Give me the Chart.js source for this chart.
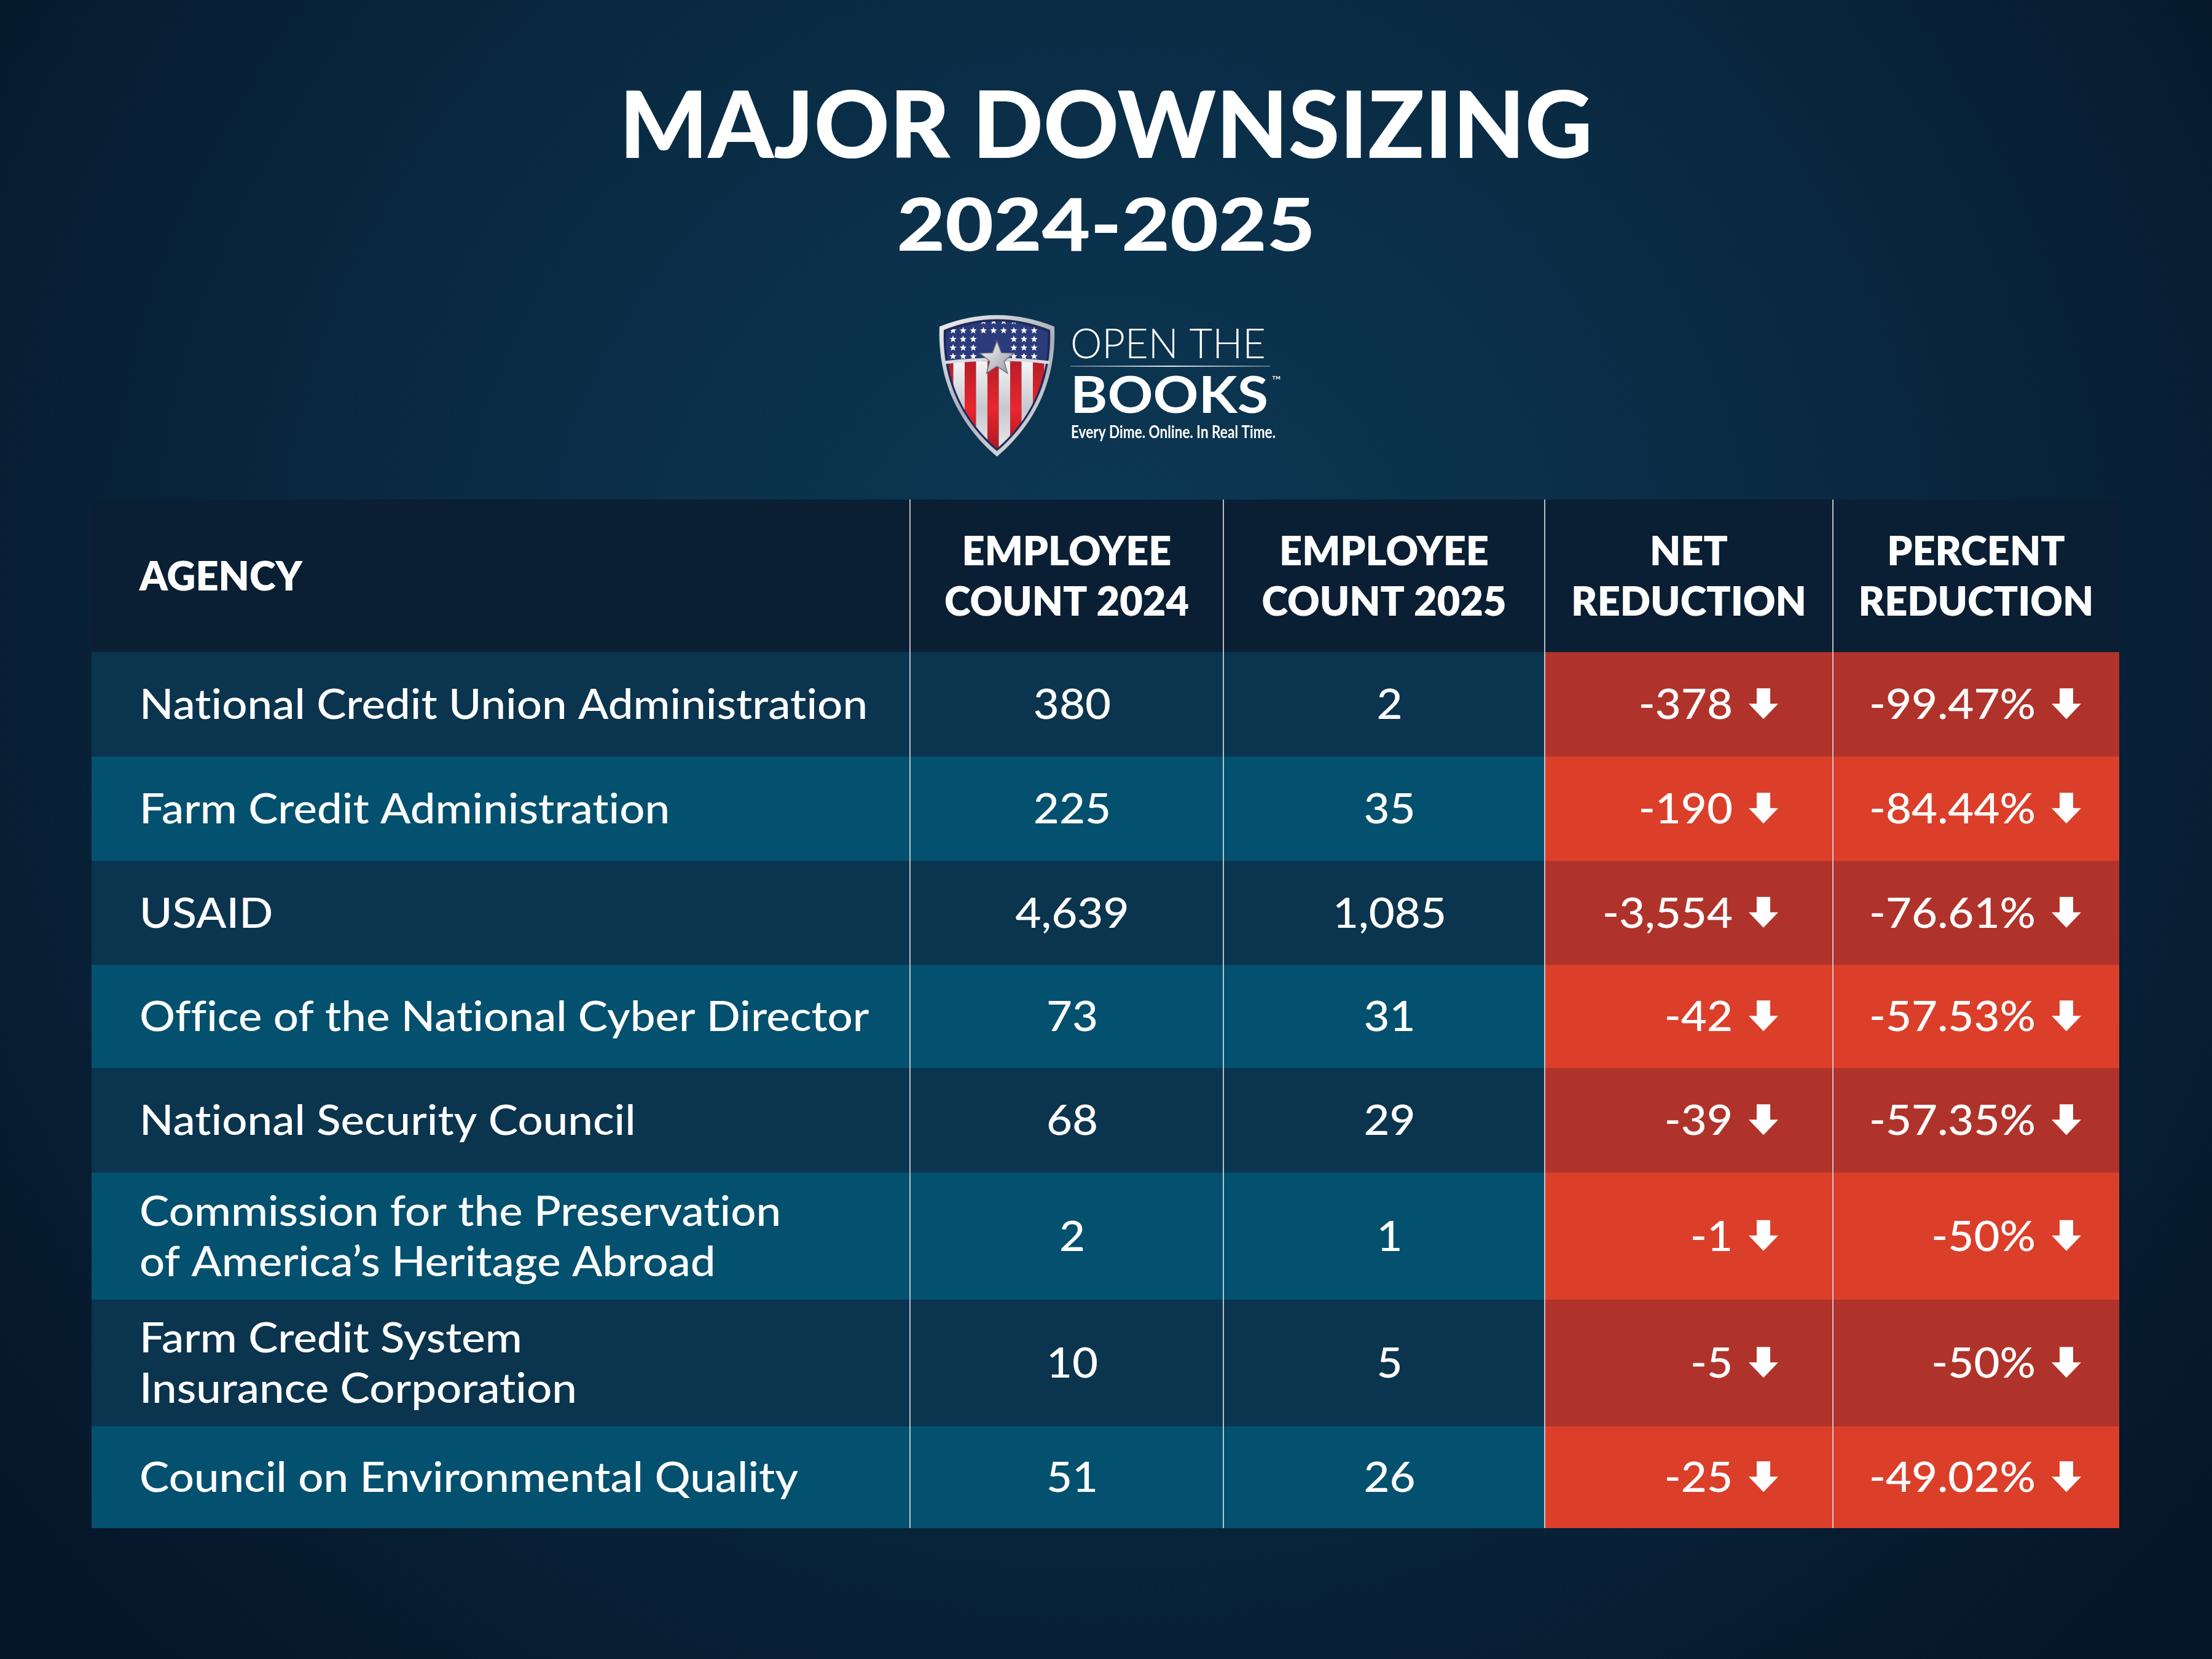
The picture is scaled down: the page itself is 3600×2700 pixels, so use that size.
<!DOCTYPE html>
<html>
<head>
<meta charset="utf-8">
<script src="https://cdn.jsdelivr.net/npm/chart.js@4.4.1/dist/chart.umd.min.js"></script>
<style>
  html, body { margin: 0; padding: 0; background: #071a2b; }
  #wrap { width: 3600px; height: 2700px; position: relative; }
</style>
</head>
<body>
<div id="wrap"><canvas id="myChart"></canvas></div>
<script>
// table content
const agencies = [
    ['National Credit Union Administration'],
    ['Farm Credit Administration'],
    ['USAID'],
    ['Office of the National Cyber Director'],
    ['National Security Council'],
    ['Commission for the Preservation', 'of America\u2019s Heritage Abroad'],
    ['Farm Credit System', 'Insurance Corporation'],
    ['Council on Environmental Quality']
];
const headers = [
    ['AGENCY'],
    ['EMPLOYEE', 'COUNT 2024'],
    ['EMPLOYEE', 'COUNT 2025'],
    ['NET', 'REDUCTION'],
    ['PERCENT', 'REDUCTION']
];
const count2024 = [380, 225, 4639, 73, 68, 2, 10, 51];
const count2025 = [2, 35, 1085, 31, 29, 1, 5, 26];
const netReduction = [-378, -190, -3554, -42, -39, -1, -5, -25];
const percentReduction = [-99.47, -84.44, -76.61, -57.53, -57.35, -50, -50, -49.02];

// layout (table units are pixels)
const columnEdges = [0, 1332, 1842, 2365, 2834, 3300];
const headerHeight = 248;
const rowHeights = [170, 170, 169, 168, 170, 207, 206, 166];
const rowStarts = [];
rowHeights.reduce((acc, h) => { rowStarts.push(acc); return acc + h; }, 0);
const tableHeight = rowHeights.reduce((a, b) => a + b, 0);

const headerColor = '#0a1f33';
const blueRows = ['#0b344e', '#03506f'];
const redRows = ['#b0332b', '#db3f2a'];

const fmt = v => v.toLocaleString('en-US');

function cellBars(y) {
    return columnEdges.slice(0, -1).map((e, c) => ({ x: [e, columnEdges[c + 1]], y: y }));
}

const datasets = [{
    label: 'header',
    data: cellBars(-headerHeight / 2),
    backgroundColor: headerColor,
    barThickness: headerHeight,
    grouped: false,
    borderWidth: 0
}].concat(agencies.map((name, i) => ({
    label: name.join(' '),
    data: cellBars(rowStarts[i] + rowHeights[i] / 2),
    backgroundColor: columnEdges.slice(0, -1).map((e, c) => c < 3 ? blueRows[i % 2] : redRows[i % 2]),
    barThickness: rowHeights[i],
    grouped: false,
    borderWidth: 0
})));

function setFont(ctx, font) {
    ctx.font = font;
    // no ligatures (the "ti" in Lato)
    if ('textRendering' in ctx) ctx.textRendering = 'optimizeSpeed';
    if ('letterSpacing' in ctx) ctx.letterSpacing = '0.01px';
}

function drawText(ctx, text, x, y, font, squeeze, align) {
    ctx.save();
    setFont(ctx, font);
    ctx.textAlign = align;
    ctx.textBaseline = 'alphabetic';
    ctx.translate(x, y);
    ctx.scale(squeeze, 1);
    ctx.fillText(text, 0, 0);
    ctx.restore();
}

function squeezeFor(ctx, text, font, width) {
    ctx.save();
    setFont(ctx, font);
    const w = ctx.measureText(text).width;
    ctx.restore();
    return width / w;
}

function drawArrow(ctx, right, baseline) {
    const w = 48, shaft = 22, head = 25, h = 50;
    const cx = right - w / 2;
    ctx.beginPath();
    ctx.moveTo(cx - shaft / 2, baseline - h);
    ctx.lineTo(cx + shaft / 2, baseline - h);
    ctx.lineTo(cx + shaft / 2, baseline - head);
    ctx.lineTo(right, baseline - head);
    ctx.lineTo(cx, baseline);
    ctx.lineTo(right - w, baseline - head);
    ctx.lineTo(cx - shaft / 2, baseline - head);
    ctx.closePath();
    ctx.fill();
}

function starPath(ctx, cx, cy, r) {
    ctx.beginPath();
    for (let k = 0; k < 10; k++) {
        const rr = k % 2 ? r * 0.42 : r;
        const a = -Math.PI / 2 + k * Math.PI / 5;
        ctx.lineTo(cx + rr * Math.cos(a), cy + rr * Math.sin(a));
    }
    ctx.closePath();
}

function shieldPath(ctx, x, y, w, h) {
    const cx = x + w / 2;
    ctx.beginPath();
    ctx.moveTo(x, y + h * 0.1);
    ctx.quadraticCurveTo(cx, y - h * 0.06, x + w, y + h * 0.1);
    ctx.bezierCurveTo(x + w * 1.02, y + h * 0.5, x + w * 0.8, y + h * 0.8, cx, y + h);
    ctx.bezierCurveTo(x + w * 0.2, y + h * 0.8, x - w * 0.02, y + h * 0.5, x, y + h * 0.1);
    ctx.closePath();
}

function drawLogo(ctx) {
    const sx = 1529, sy = 508, sw = 187, sh = 235;
    // outer silver rim
    let g = ctx.createLinearGradient(sx, sy, sx + sw, sy + sh);
    g.addColorStop(0, '#f2f2f4');
    g.addColorStop(0.5, '#a9adb5');
    g.addColorStop(1, '#e6e7ea');
    ctx.fillStyle = g;
    shieldPath(ctx, sx, sy, sw, sh);
    ctx.fill();
    ctx.fillStyle = '#1d2a5c';
    shieldPath(ctx, sx + 7, sy + 7, sw - 14, sh - 16);
    ctx.fill();
    // inner field
    ctx.save();
    shieldPath(ctx, sx + 11, sy + 11, sw - 22, sh - 24);
    ctx.clip();
    ctx.fillStyle = '#2c3b7c';
    ctx.fillRect(sx, sy, sw, sh);
    for (let s = 0; s < 10; s++) {
        const gs = ctx.createLinearGradient(0, sy + 80, 0, sy + sh);
        if (s % 2 === 0) {
            gs.addColorStop(0, '#b81e28');
            gs.addColorStop(0.5, '#e8262f');
            gs.addColorStop(1, '#a3151e');
        } else {
            gs.addColorStop(0, '#f4f4f6');
            gs.addColorStop(0.5, '#c6c8ce');
            gs.addColorStop(1, '#eeeeef');
        }
        ctx.fillStyle = gs;
        ctx.fillRect(sx + 4 + s * 18.5, sy + 80, 18.5, sh);
    }
    ctx.fillStyle = '#ffffff';
    const starRows = [15, 30, 44, 58, 72];
    starRows.forEach((ry, r) => {
        for (let c = 0; c < 9; c++) {
            const px = sx + 22 + c * 16.5;
            if (r === 0 && (c < 3 || c > 7)) continue;
            if (r >= 2 && Math.abs(px - (sx + sw / 2)) < 26) continue;
            starPath(ctx, px, sy + ry, 6);
            ctx.fill();
        }
    });
    ctx.restore();
    // band
    ctx.strokeStyle = '#d9dbe0';
    ctx.lineWidth = 5;
    ctx.beginPath();
    ctx.moveTo(sx + 8, sy + 82);
    ctx.quadraticCurveTo(sx + sw / 2, sy + 72, sx + sw - 8, sy + 82);
    ctx.stroke();
    // big star
    let gst = ctx.createLinearGradient(sx + 60, sy + 48, sx + 120, sy + 105);
    gst.addColorStop(0, '#ffffff');
    gst.addColorStop(1, '#8e939c');
    ctx.fillStyle = gst;
    starPath(ctx, sx + sw / 2, sy + 76, 29);
    ctx.fill();
    ctx.strokeStyle = '#6f747c';
    ctx.lineWidth = 1.5;
    ctx.stroke();

    // wordmark
    ctx.fillStyle = '#ffffff';
    let f = '300 67px Lato';
    drawText(ctx, 'OPEN THE', 1742, 583, f, squeezeFor(ctx, 'OPEN THE', f, 318), 'left');
    let lg = ctx.createLinearGradient(1742, 0, 2067, 0);
    lg.addColorStop(0, 'rgba(255,255,255,0.3)');
    lg.addColorStop(0.5, 'rgba(255,255,255,0.9)');
    lg.addColorStop(1, 'rgba(255,255,255,0.3)');
    ctx.fillStyle = lg;
    ctx.fillRect(1742, 595, 325, 2);
    ctx.fillStyle = '#ffffff';
    f = '700 82px Lato';
    drawText(ctx, 'BOOKS', 1742, 672, f, squeezeFor(ctx, 'BOOKS', f, 322), 'left');
    drawText(ctx, '\u2122', 2070, 626, '400 20px Lato', 1, 'left');
    f = '700 28px Lato';
    const tag = 'Every Dime. Online. In Real Time.';
    drawText(ctx, tag, 1743, 713, f, squeezeFor(ctx, tag, f, 333), 'left');
}

const backdrop = {
    id: 'backdrop',
    beforeDraw(chart) {
        const ctx = chart.ctx;
        const W = chart.width, H = chart.height;
        ctx.save();
        const g = ctx.createRadialGradient(1800, 1000, 0, 1800, 1000, 2300);
        g.addColorStop(0, '#0c3956');
        g.addColorStop(0.45, '#0a2c45');
        g.addColorStop(1, '#061629');
        ctx.fillStyle = g;
        ctx.fillRect(0, 0, W, H);

        ctx.fillStyle = '#ffffff';
        let f = '900 150px Lato';
        drawText(ctx, 'MAJOR DOWNSIZING', 1800, 257, f, squeezeFor(ctx, 'MAJOR DOWNSIZING', f, 1584), 'center');
        f = '900 119px Lato';
        drawText(ctx, '2024-2025', 1800, 408, f, squeezeFor(ctx, '2024-2025', f, 681), 'center');

        drawLogo(ctx);
        ctx.restore();
    }
};

const tableText = {
    id: 'tableText',
    afterDatasetsDraw(chart) {
        const { ctx, scales: { x, y } } = chart;
        ctx.save();

        // column dividers
        ctx.strokeStyle = 'rgba(214,220,226,0.85)';
        ctx.lineWidth = 2;
        for (let c = 1; c < columnEdges.length - 1; c++) {
            const px = Math.round(x.getPixelForValue(columnEdges[c]));
            ctx.beginPath();
            ctx.moveTo(px, y.getPixelForValue(-headerHeight));
            ctx.lineTo(px, y.getPixelForValue(tableHeight));
            ctx.stroke();
        }

        const left = c => x.getPixelForValue(columnEdges[c]);
        const right = c => x.getPixelForValue(columnEdges[c + 1]);
        const mid = c => (left(c) + right(c)) / 2;

        ctx.fillStyle = '#ffffff';

        // header
        const hFont = '800 66px Lato';
        const hSq = squeezeFor(ctx, 'COUNT 2024', hFont, 398);
        const hCap = 66 * 0.7165;
        const hMid = y.getPixelForValue(-headerHeight / 2);
        headers.forEach((lines, c) => {
            lines.forEach((t, k) => {
                const cy = hMid + (k - (lines.length - 1) / 2) * 82;
                const base = cy + hCap / 2;
                if (c === 0) drawText(ctx, t, left(c) + 78, base, hFont, hSq, 'left');
                else drawText(ctx, t, mid(c), base, hFont, hSq, 'center');
            });
        });

        // body rows
        const bFont = '500 68px Lato';
        const bSq = squeezeFor(ctx, agencies[0][0], bFont, 1185);
        const bCap = 68 * 0.7165;
        agencies.forEach((lines, i) => {
            const cy = y.getPixelForValue(rowStarts[i] + rowHeights[i] / 2);
            lines.forEach((t, k) => {
                const ly = cy + (k - (lines.length - 1) / 2) * 82;
                drawText(ctx, t, left(0) + 78, ly + bCap / 2, bFont, bSq, 'left');
            });
            const base = cy + bCap / 2;
            drawText(ctx, fmt(count2024[i]), mid(1) + 9, base, bFont, bSq, 'center');
            drawText(ctx, fmt(count2025[i]), mid(2) + 9, base, bFont, bSq, 'center');

            const netRight = right(3) - 89;
            drawText(ctx, fmt(netReduction[i]), netRight - 48 - 26, base, bFont, bSq, 'right');
            drawArrow(ctx, netRight, base);

            const pctRight = right(4) - 62;
            drawText(ctx, percentReduction[i] + '%', pctRight - 48 - 26, base, bFont, bSq, 'right');
            drawArrow(ctx, pctRight, base);
        });
        ctx.restore();
    }
};

const ctx = document.getElementById('myChart').getContext('2d');
const myChart = new Chart(ctx, {
    type: 'bar',
    data: {
        labels: agencies.map(a => a.join(' ')),
        datasets: datasets
    },
    options: {
        indexAxis: 'y',
        responsive: true,
        maintainAspectRatio: false,
        animation: false,
        devicePixelRatio: 1,
        layout: { padding: { left: 149, right: 151, top: 813, bottom: 213 } },
        plugins: {
            legend: { display: false },
            tooltip: { enabled: false }
        },
        scales: {
            x: { type: 'linear', min: 0, max: columnEdges[columnEdges.length - 1], display: false, offset: false },
            y: { type: 'linear', min: -headerHeight, max: tableHeight, reverse: true, display: false, offset: false }
        }
    },
    plugins: [backdrop, tableText]
});
</script>
</body>
</html>
